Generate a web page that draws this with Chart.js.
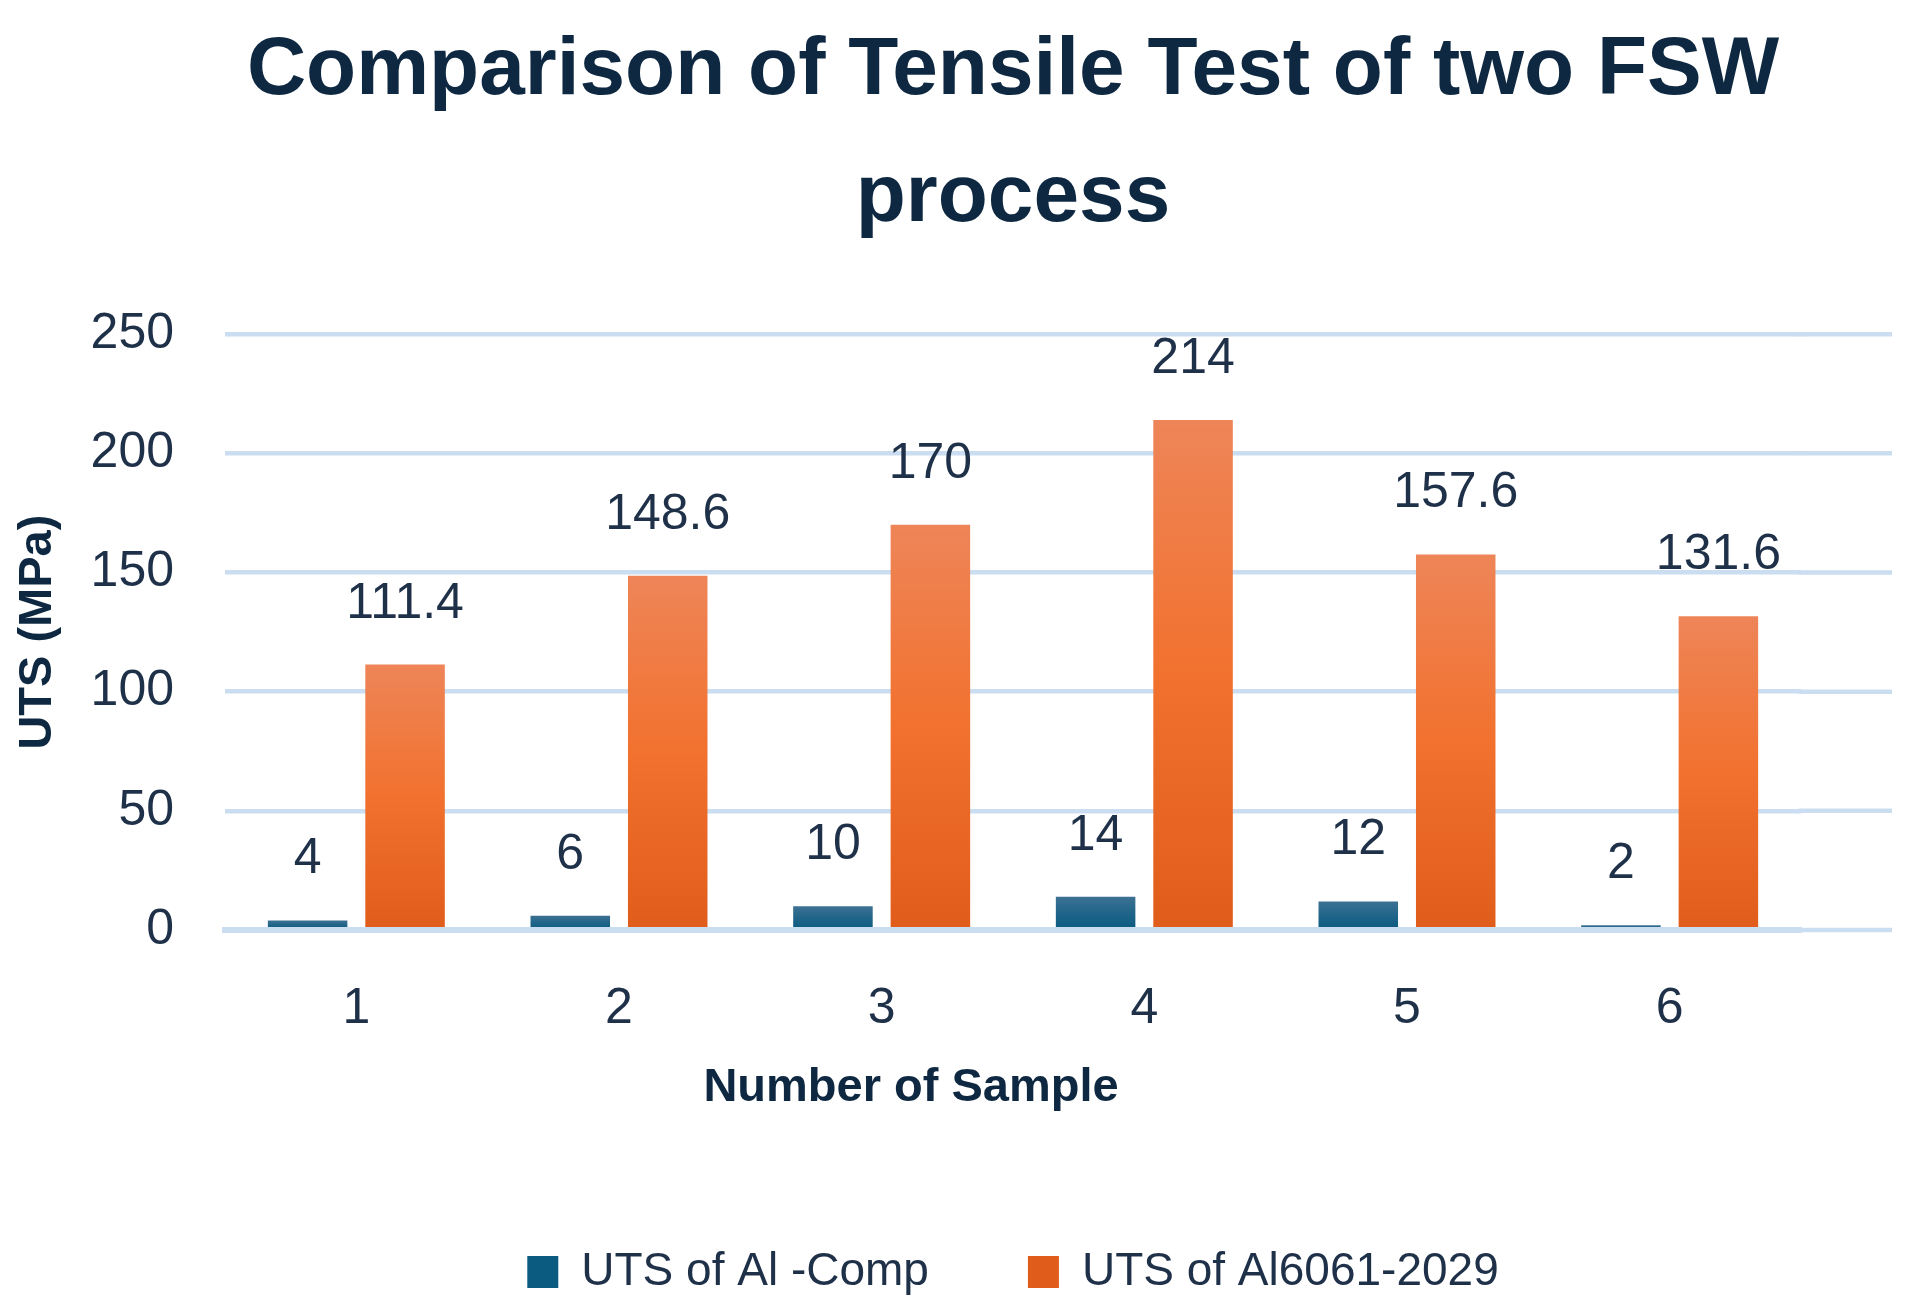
<!DOCTYPE html>
<html>
<head>
<meta charset="utf-8">
<title>Comparison of Tensile Test of two FSW process</title>
<script src="https://cdn.jsdelivr.net/npm/chart.js@4.4.1/dist/chart.umd.min.js"></script>
<style>
  html, body { margin: 0; padding: 0; background: #fff; }
  #wrap { width: 1914px; height: 1311px; }
</style>
</head>
<body>
<div id="wrap"><canvas id="utsChart"></canvas></div>
<script>
const samples = ['1', '2', '3', '4', '5', '6'];
const utsAlComp = [4, 6, 10, 14, 12, 2];
const utsAl6061 = [111.4, 148.6, 170, 214, 157.6, 131.6];
const seriesNames = ['UTS of Al -Comp', 'UTS of Al6061-2029'];
const yTicks = [0, 50, 100, 150, 200, 250];

const textColor = '#1F3049';
const titleColor = '#0E2841';
const gridColor = '#CADDF1';
const fontFamily = "'Liberation Sans', Arial, sans-serif";

// vertical gradient per bar, lighter at the top
function barFill(top, mid, bottom) {
    return (c) => {
        if (c.type !== 'data' || !c.chart.chartArea) return mid;
        const y = c.chart.scales.y;
        const y0 = y.getPixelForValue(c.raw);
        const y1 = y.getPixelForValue(0);
        const g = c.chart.ctx.createLinearGradient(0, y0, 0, y1);
        g.addColorStop(0, top);
        g.addColorStop(0.5, mid);
        g.addColorStop(1, bottom);
        return g;
    };
}

const valueLabels = {
    id: 'valueLabels',
    afterDatasetsDraw(chart) {
        const ctx = chart.ctx;
        ctx.save();
        ctx.font = '50px ' + fontFamily;
        ctx.fillStyle = textColor;
        ctx.textAlign = 'center';
        ctx.textBaseline = 'alphabetic';
        chart.data.datasets.forEach((ds, i) => {
            chart.getDatasetMeta(i).data.forEach((bar, j) => {
                ctx.fillText(String(ds.data[j]), bar.x, bar.y - 47);
            });
        });
        ctx.restore();
    }
};

// the gridlines run a bit past the last category, like the original
const gridTail = {
    id: 'gridTail',
    beforeDatasetsDraw(chart) {
        const {ctx, chartArea, scales: {y}} = chart;
        ctx.save();
        ctx.strokeStyle = gridColor;
        ctx.lineWidth = 4.5;
        y.ticks.forEach(t => {
            const py = y.getPixelForValue(t.value);
            ctx.beginPath();
            ctx.moveTo(chartArea.right - 2, py);
            ctx.lineTo(chartArea.right + 91, py);
            ctx.stroke();
        });
        ctx.restore();
    }
};

const xTitle = {
    id: 'xTitle',
    afterDraw(chart) {
        const {ctx, chartArea} = chart;
        ctx.save();
        ctx.font = 'bold 47px ' + fontFamily;
        ctx.fillStyle = titleColor;
        ctx.textAlign = 'center';
        ctx.textBaseline = 'middle';
        ctx.fillText('Number of Sample', chartArea.left + 686, chartArea.bottom + 158);
        ctx.restore();
    }
};

new Chart(document.getElementById('utsChart'), {
    type: 'bar',
    data: {
        labels: samples,
        datasets: [
            {
                label: seriesNames[0],
                data: utsAlComp,
                backgroundColor: barFill('#3D7193', '#1F6589', '#0B5A80'),
                borderWidth: 0,
                categoryPercentage: 0.742,
                barPercentage: 0.816,
            },
            {
                label: seriesNames[1],
                data: utsAl6061,
                backgroundColor: barFill('#EE8558', '#F2712E', '#E05C1A'),
                borderWidth: 0,
                categoryPercentage: 0.742,
                barPercentage: 0.816,
            },
        ],
    },
    options: {
        responsive: true,
        maintainAspectRatio: false,
        animation: false,
        layout: { padding: { top: 0, left: 10, right: 113, bottom: 6 } },
        plugins: {
            title: {
                display: true,
                text: ['Comparison of Tensile Test of two FSW', 'process'],
                color: titleColor,
                fullSize: false,
                font: { family: fontFamily, size: 82, weight: 'bold', lineHeight: 1.55 },
                padding: { top: 8, bottom: 72 },
            },
            legend: {
                position: 'bottom',
                fullSize: false,
                labels: {
                    boxWidth: 31,
                    boxHeight: 32,
                    padding: 99,
                    color: textColor,
                    font: { family: fontFamily, size: 46 },
                },
            },
            tooltip: { enabled: false },
        },
        scales: {
            x: {
                grid: { display: false },
                border: { display: true, color: gridColor, width: 6, z: 1 },
                ticks: { color: textColor, padding: 41, font: { family: fontFamily, size: 50 } },
                afterFit: (s) => { s.height = 220; },
            },
            y: {
                min: yTicks[0],
                max: yTicks[yTicks.length - 1],
                ticks: {
                    stepSize: yTicks[1] - yTicks[0],
                    color: textColor,
                    padding: 51,
                    font: { family: fontFamily, size: 50 },
                },
                grid: { color: gridColor, lineWidth: 4.5, drawTicks: false },
                border: { display: false },
                title: {
                    display: true,
                    text: 'UTS (MPa)',
                    color: titleColor,
                    font: { family: fontFamily, size: 47, weight: 'bold' },
                    padding: { top: 0, bottom: 0 },
                },
                afterFit: (s) => { s.width = 215; },
            },
        },
    },
    plugins: [gridTail, valueLabels, xTitle],
});
</script>
</body>
</html>
